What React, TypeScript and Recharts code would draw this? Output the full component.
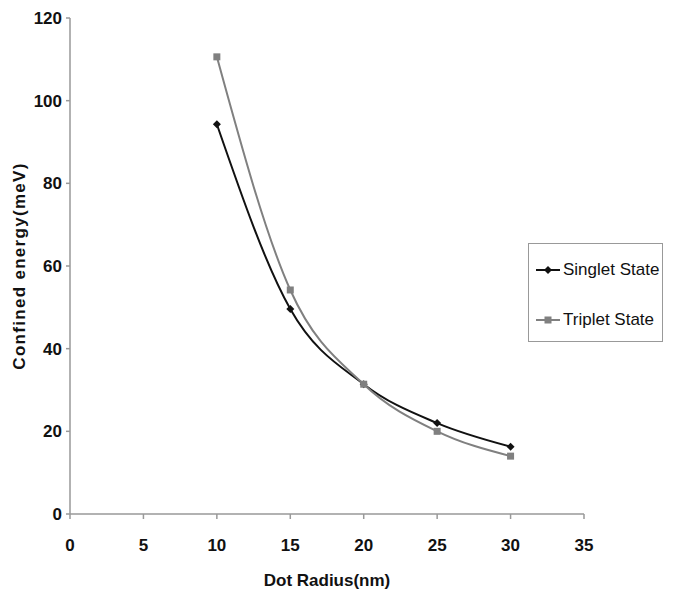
import React from 'react';
import { LineChart, Line, XAxis, YAxis, Legend } from 'recharts';

const radius = [10, 15, 20, 25, 30];
const singlet = [94.3, 49.6, 31.4, 22.0, 16.3];
const triplet = [110.6, 54.2, 31.4, 20.0, 14.0];
const xTicks = [0, 5, 10, 15, 20, 25, 30, 35];
const yTicks = [0, 20, 40, 60, 80, 100, 120];

const data = radius.map((r, i) => ({ r, singlet: singlet[i], triplet: triplet[i] }));

const FONT = '"Liberation Sans", Arial, sans-serif';
const SINGLET_COLOR = '#111111';
const TRIPLET_COLOR = '#808080';

const Diamond = (props: any) => {
  const { cx, cy, fill } = props;
  if (cx == null || cy == null) return null;
  const s = 4;
  return <path d={`M${cx},${cy - s}L${cx + s},${cy}L${cx},${cy + s}L${cx - s},${cy}Z`} fill={fill} />;
};

const Square = (props: any) => {
  const { cx, cy, fill } = props;
  if (cx == null || cy == null) return null;
  const s = 3.5;
  return <rect x={cx - s} y={cy - s} width={2 * s} height={2 * s} fill={fill} />;
};

const LegendBox = (props: any) => {
  const payload = props.payload || [];
  return (
    <div
      style={{
        width: 135,
        height: 99,
        border: '1.5px solid #999',
        background: '#fff',
        boxSizing: 'border-box',
        fontFamily: FONT,
        fontSize: 17,
        color: '#111',
        paddingTop: 14,
        whiteSpace: 'nowrap',
      }}
    >
      {payload.map((p: any, i: number) => (
        <div key={i} style={{ display: 'flex', alignItems: 'center', height: 24, marginBottom: i === 0 ? 26 : 0 }}>
          <svg width={28} height={12} style={{ marginLeft: 5, marginRight: 1, flexShrink: 0 }}>
            <line x1={2} y1={6} x2={26} y2={6} stroke={p.color} strokeWidth={2} />
            {p.dataKey === 'singlet' ? (
              <path d="M14,2L18,6L14,10L10,6Z" fill={p.color} />
            ) : (
              <rect x={10.5} y={2.5} width={7} height={7} fill={p.color} />
            )}
          </svg>
          <span>{p.value}</span>
        </div>
      ))}
    </div>
  );
};

export default function App() {
  return (
    <div style={{ position: 'absolute', left: 0, top: 0, width: 673, height: 593, background: '#fff' }}>
      <LineChart
        width={673}
        height={593}
        data={data}
        margin={{ top: 18, right: 89, bottom: 29, left: 30 }}
      >
        <XAxis
          dataKey="r"
          type="number"
          domain={[0, 35]}
          ticks={xTicks}
          interval={0}
          height={50}
          stroke="#999"
          strokeWidth={1.5}
          tickSize={5}
          tickMargin={20}
          tick={{ fill: '#111', fontSize: 17, fontWeight: 'bold', fontFamily: FONT }}
          label={{
            value: 'Dot Radius(nm)',
            position: 'insideBottom',
            offset: -22,
            style: { fill: '#111', fontSize: 17, fontWeight: 'bold', fontFamily: FONT },
          }}
        />
        <YAxis
          type="number"
          domain={[0, 120]}
          ticks={yTicks}
          interval={0}
          width={40}
          stroke="#999"
          strokeWidth={1.5}
          tickSize={4}
          tickMargin={4}
          tick={{ fill: '#111', fontSize: 17, fontWeight: 'bold', fontFamily: FONT }}
          label={{
            value: 'Confined energy(meV)',
            angle: -90,
            position: 'insideLeft',
            offset: -11,
            style: {
              fill: '#111',
              fontSize: 17,
              fontWeight: 'bold',
              fontFamily: FONT,
              letterSpacing: 1.3,
              textAnchor: 'middle',
            },
          }}
        />
        <Legend
          layout="vertical"
          align="center"
          verticalAlign="middle"
          content={<LegendBox />}
          wrapperStyle={{ position: 'absolute', left: 528, top: 243, width: 135, height: 99 }}
        />
        <Line
          type="monotone"
          dataKey="singlet"
          name="Singlet State"
          stroke={SINGLET_COLOR}
          strokeWidth={2}
          fill={SINGLET_COLOR}
          dot={<Diamond />}
          activeDot={false}
          isAnimationActive={false}
        />
        <Line
          type="monotone"
          dataKey="triplet"
          name="Triplet State"
          stroke={TRIPLET_COLOR}
          strokeWidth={2}
          fill={TRIPLET_COLOR}
          dot={<Square />}
          activeDot={false}
          isAnimationActive={false}
        />
      </LineChart>
    </div>
  );
}
